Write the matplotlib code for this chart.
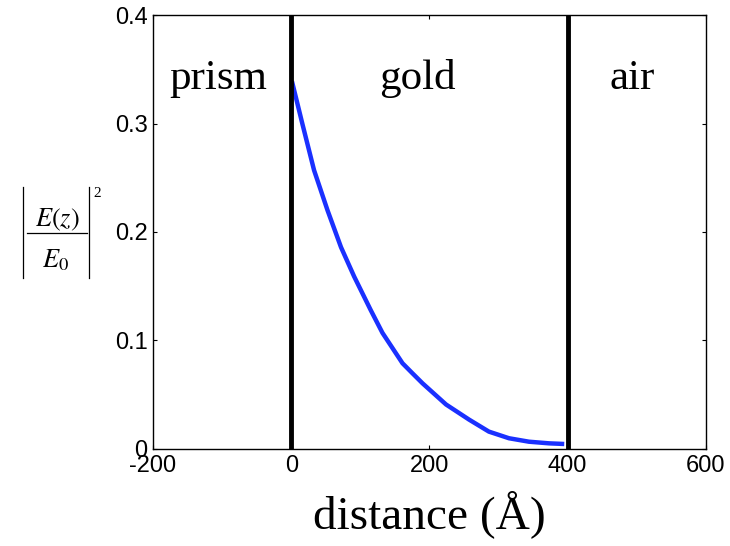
import matplotlib.pyplot as plt
from matplotlib.lines import Line2D

# field intensity
dist = [1, 16, 33, 52.5, 72, 91, 115, 132, 161, 175, 190, 224, 257.5,
        286, 315, 344, 373, 395]
intensity = [0.339, 0.300, 0.257, 0.220, 0.186, 0.159, 0.128, 0.107, 0.079,
             0.070, 0.0605, 0.041, 0.027, 0.016, 0.0099, 0.0067, 0.0052, 0.0046]

boundaries = [0, 400]
region_names = ["prism", "gold", "air"]
region_x = [-105, 182, 494]

xticks = [-200, 0, 200, 400, 600]
yticks = [0, 0.1, 0.2, 0.3, 0.4]

plt.rcParams['mathtext.fontset'] = 'stix'
W, H = 730, 546
fig = plt.figure(figsize=(7.3, 5.46), dpi=100)
ax = fig.add_axes([0.2096, 0.1777, 0.7574, 0.7948])

for b in boundaries:
    ax.axvline(b, color='black', linewidth=3.5, zorder=3)
ax.plot(dist, intensity, color='#1a30ff', linewidth=3.2, zorder=2,
        solid_joinstyle='round', solid_capstyle='butt')

for name, x in zip(region_names, region_x):
    ax.text(x, 0.332, name, ha='center', va='baseline',
            family='Liberation Serif', fontsize=31)

ax.set_xlim(-200, 600)
ax.set_ylim(0, 0.4)
ax.set_xticks(xticks)
ax.set_yticks(yticks)
ax.set_xticklabels([str(t) for t in xticks])
ax.set_yticklabels(['0', '0.1', '0.2', '0.3', '0.4'])
ax.tick_params(direction='in', length=3, width=0.8, top=True, right=True,
               labelsize=17, pad=4)
for lab in ax.get_xticklabels() + ax.get_yticklabels():
    lab.set_family('Liberation Sans')
for s in ax.spines.values():
    s.set_linewidth(1.0)

ax.set_xlabel('distance (Å)', family='Liberation Serif', fontsize=34, labelpad=10)

# y label: |E(z)/E0|^2 built from pieces (pixel positions from top-left)
def fx(px):
    return px / W

def fy(py):
    return 1 - py / H

fig.text(fx(57), fy(226), r'$E(z)$', ha='center', va='baseline', fontsize=19)
fig.text(fx(56), fy(267), r'$E_0$', ha='center', va='baseline', fontsize=19)
fig.add_artist(Line2D([fx(27), fx(87)], [fy(233), fy(233)], color='black', linewidth=0.9))
fig.add_artist(Line2D([fx(23), fx(23)], [fy(187), fy(278)], color='black', linewidth=0.9))
fig.add_artist(Line2D([fx(89), fx(89)], [fy(187), fy(278)], color='black', linewidth=0.9))
fig.text(fx(93), fy(197), '2', ha='left', va='baseline', fontsize=11,
         family='Liberation Serif')

fig.savefig('out.png', dpi=100)
